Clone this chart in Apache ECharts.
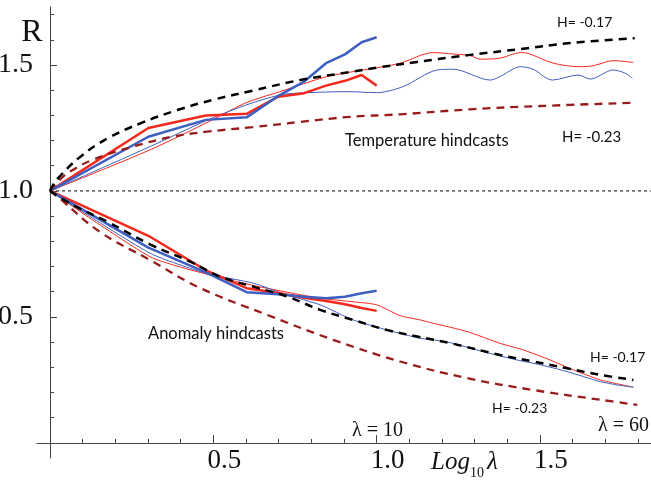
<!DOCTYPE html>
<html>
<head>
<meta charset="utf-8">
<script src="https://cdn.jsdelivr.net/npm/echarts@6/dist/echarts.min.js"></script>
<style>
html,body{margin:0;padding:0;background:#fff;}
#c{width:651px;height:482px;}
</style>
</head>
<body>
<div id="c"></div>
<script>
// ---- data ----
const xTicks = [0.1,0.2,0.3,0.4,0.5,0.6,0.7,0.8,0.9,1.0,1.1,1.2,1.3,1.4,1.5,1.6,1.7,1.8];
const xTickLabels = [0.5, 1.0, 1.5];
const yTicks = [0.1,0.2,0.3,0.4,0.5,0.6,0.7,0.8,0.9,1.0,1.1,1.2,1.3,1.4,1.5,1.6,1.7];
const yTickLabels = [0.5, 1.0, 1.5];

// thick lines: lambda = 1..10, x = log10(lambda)
const xThick = [0, 0.301, 0.477, 0.602, 0.699, 0.778, 0.845, 0.903, 0.954, 1.0];
const tempThickRed  = [1.0, 1.25, 1.299, 1.306, 1.374, 1.388, 1.418, 1.437, 1.46, 1.418];
const tempThickBlue = [1.0, 1.215, 1.282, 1.292, 1.377, 1.434, 1.507, 1.542, 1.59, 1.61];
const anomThickRed  = [1.0, 0.822, 0.685, 0.614, 0.595, 0.576, 0.563, 0.55, 0.535, 0.524];
const anomThickBlue = [1.0, 0.775, 0.677, 0.598, 0.59, 0.58, 0.574, 0.58, 0.594, 0.604];

// thin lines (lambda up to 60)
const tempThinRedX = [0, 0.306, 0.5, 0.6, 0.704, 0.848, 0.959, 1.011, 1.072, 1.173, 1.22, 1.286, 1.317, 1.378, 1.44, 1.464, 1.541, 1.623, 1.663, 1.724, 1.786];
const tempThinRedY = [1.0, 1.163, 1.284, 1.35, 1.394, 1.454, 1.48, 1.491, 1.507, 1.549, 1.545, 1.537, 1.523, 1.527, 1.549, 1.546, 1.507, 1.493, 1.497, 1.517, 1.51];
const tempThinBlueX = [0, 0.306, 0.48, 0.6, 0.704, 0.756, 0.909, 1.0, 1.081, 1.185, 1.234, 1.348, 1.378, 1.44, 1.479, 1.538, 1.617, 1.654, 1.724, 1.761, 1.783];
const tempThinBlueY = [1.0, 1.176, 1.28, 1.341, 1.381, 1.388, 1.394, 1.39, 1.414, 1.48, 1.483, 1.44, 1.454, 1.493, 1.483, 1.44, 1.46, 1.444, 1.48, 1.467, 1.447];
const anomThinBlueX = [0, 0.306, 0.48, 0.622, 0.726, 0.827, 0.928, 1.032, 1.133, 1.173, 1.225, 1.326, 1.43, 1.501, 1.583, 1.685, 1.737, 1.786];
const anomThinBlueY = [1.0, 0.753, 0.672, 0.634, 0.587, 0.548, 0.488, 0.448, 0.415, 0.409, 0.398, 0.362, 0.329, 0.31, 0.283, 0.243, 0.23, 0.221];
const anomThinRedX = [0, 0.306, 0.478, 0.622, 0.726, 0.827, 0.928, 1.0, 1.072, 1.133, 1.173, 1.277, 1.378, 1.449, 1.531, 1.602, 1.685, 1.786];
const anomThinRedY = [1.0, 0.739, 0.67, 0.625, 0.598, 0.574, 0.56, 0.548, 0.505, 0.488, 0.475, 0.442, 0.395, 0.369, 0.329, 0.29, 0.25, 0.221];

// theoretical curves
const tempH17X = [0, 0.01, 0.031, 0.092, 0.175, 0.28, 0.39, 0.5, 0.62, 0.766, 0.919, 1.0, 1.124, 1.286, 1.44, 1.593, 1.79];
const tempH17Y = [1.0, 1.025, 1.06, 1.135, 1.208, 1.27, 1.321, 1.362, 1.398, 1.44, 1.472, 1.489, 1.512, 1.54, 1.563, 1.587, 1.606];
const tempH23X = [0, 0.03, 0.061, 0.13, 0.254, 0.377, 0.48, 0.62, 0.766, 0.919, 1.072, 1.286, 1.5, 1.786];
const tempH23Y = [1.0, 1.045, 1.077, 1.123, 1.176, 1.216, 1.235, 1.253, 1.274, 1.294, 1.304, 1.324, 1.337, 1.35];
const anomH17X = [0, 0.07, 0.175, 0.306, 0.429, 0.521, 0.622, 0.726, 0.827, 0.928, 1.032, 1.124, 1.225, 1.378, 1.479, 1.583, 1.685, 1.786];
const anomH17Y = [1.0, 0.944, 0.878, 0.788, 0.719, 0.66, 0.62, 0.581, 0.528, 0.488, 0.448, 0.422, 0.396, 0.349, 0.323, 0.296, 0.27, 0.25];
const anomH23X = [0, 0.031, 0.153, 0.306, 0.459, 0.665, 0.867, 1.072, 1.277, 1.479, 1.685, 1.798];
const anomH23Y = [1.0, 0.968, 0.837, 0.726, 0.615, 0.508, 0.409, 0.323, 0.257, 0.21, 0.171, 0.151];

const refLineX = [0, 1.84];
const refLineY = [1.0, 1.0];

// ---- chart ----
const RED = '#f5281c', BLUE = '#3e5fc0', DRED = '#981c1c';
const zip = (xs, ys) => xs.map((x, i) => [x, ys[i]]);
function ln(xs, ys, color, width, type, smooth) {
  return {type: 'line', data: zip(xs, ys), showSymbol: false, symbol: 'none', smooth: smooth || false,
    silent: true, animation: false, clip: false, xAxisIndex: 0, yAxisIndex: 0,
    lineStyle: {color: color, width: width, type: type || 'solid', cap: 'butt'}};
}
const chart = echarts.init(document.getElementById('c'), null, {renderer: 'canvas'});
const serif = '"Liberation Serif", "DejaVu Serif", serif';
const sans = 'Lato, "Open Sans", sans-serif';
function txt(x, y, s, font, align) {
  return {type: 'text', x: x, y: y, silent: true,
    style: {text: s, font: font, fill: '#111', textAlign: align || 'left', textVerticalAlign: 'middle'}};
}
const X_MIN = -0.04, X_MAX = 1.84, Y_MIN = -0.06, Y_MAX = 1.73;
chart.setOption({
  animation: false,
  grid: {left: 37, right: 0, top: 7, bottom: 24, containLabel: false, outerBoundsMode: 'none'},
  xAxis: [{type: 'value', min: X_MIN, max: X_MAX, position: 'bottom',
    axisLine: {onZero: true, lineStyle: {color: '#444', width: 1}},
    axisTick: {inside: true, length: 4, customValues: xTicks, lineStyle: {color: '#444'}},
    axisLabel: {customValues: xTickLabels, formatter: v => v.toFixed(1), fontFamily: serif, fontSize: 27,
      color: '#111', margin: -11, padding: [0, 0, 0, 22], hideOverlap: false},
    splitLine: {show: false}},
   {type: 'value', min: X_MIN, max: X_MAX, position: 'bottom', offset: -16,
    axisLine: {show: false, onZero: false},
    axisTick: {show: true, inside: true, length: 7, customValues: xTickLabels, lineStyle: {color: '#444'}},
    axisLabel: {show: false}, splitLine: {show: false}}],
  yAxis: [{type: 'value', min: Y_MIN, max: Y_MAX, position: 'left',
    axisLine: {onZero: true, lineStyle: {color: '#444', width: 1}},
    axisTick: {inside: true, length: 4, customValues: yTicks, lineStyle: {color: '#444'}},
    axisLabel: {customValues: yTickLabels, formatter: v => v.toFixed(1), fontFamily: serif, fontSize: 28,
      color: '#111', margin: 4, hideOverlap: false},
    splitLine: {show: false}},
   {type: 'value', min: Y_MIN, max: Y_MAX, position: 'left', offset: -13,
    axisLine: {show: false, onZero: false},
    axisTick: {show: true, inside: true, length: 7, customValues: yTickLabels, lineStyle: {color: '#444'}},
    axisLabel: {show: false}, splitLine: {show: false}}],
  series: [
    ln(refLineX, refLineY, '#000', 1, [3, 3]),
    ln(tempThinRedX, tempThinRedY, RED, 1, 'solid', 0.3),
    ln(tempThinBlueX, tempThinBlueY, BLUE, 1, 'solid', 0.3),
    ln(anomThinRedX, anomThinRedY, RED, 1, 'solid', 0.2),
    ln(anomThinBlueX, anomThinBlueY, BLUE, 1, 'solid', 0.2),
    ln(xThick, tempThickRed, RED, 2.5),
    ln(xThick, tempThickBlue, BLUE, 2.5),
    ln(xThick, anomThickRed, RED, 2.5),
    ln(xThick, anomThickBlue, BLUE, 2.5),
    ln(tempH23X, tempH23Y, DRED, 2.3, [8, 6], 0.4),
    ln(anomH23X, anomH23Y, DRED, 2.3, [8, 6], 0.4),
    ln(tempH17X, tempH17Y, '#000', 2.5, [8, 6], 0.4),
    ln(anomH17X, anomH17Y, '#000', 2.5, [8, 6], 0.4)
  ],
  graphic: [
    txt(32, 33, 'R', '32px ' + serif, 'center'),
    txt(345, 141, 'Temperature hindcasts', '16.5px ' + sans),
    txt(148, 334, 'Anomaly hindcasts', '16.5px ' + sans),
    txt(557, 22, 'H= -0.17', '14px ' + sans),
    txt(562, 137, 'H= -0.23', '15px ' + sans),
    txt(590, 357, 'H= -0.17', '14px ' + sans),
    txt(492, 408, 'H= -0.23', '14px ' + sans),
    txt(352, 431, 'λ = 10', '20px ' + serif),
    txt(598, 426, 'λ = 60', '20px ' + serif),
    txt(431, 462, 'Log', 'italic 25px ' + serif),
    txt(470, 473, '10', '14px ' + serif),
    txt(487, 462, 'λ', 'italic 25px ' + serif)
  ]
});
</script>
</body>
</html>
